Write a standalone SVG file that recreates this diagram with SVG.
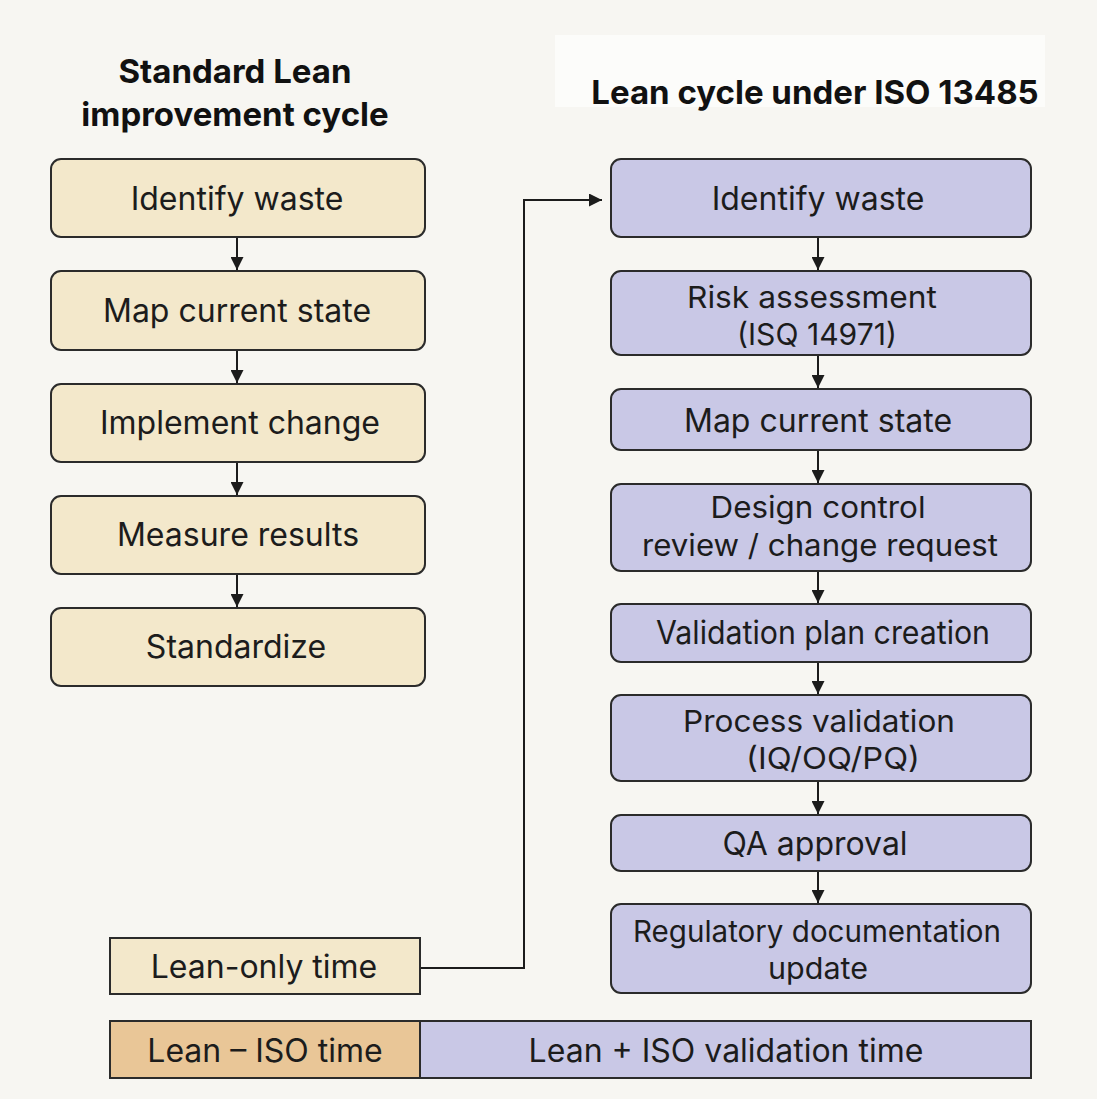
<svg xmlns="http://www.w3.org/2000/svg" width="1097" height="1099" viewBox="0 0 1097 1099">
<defs>
<style>
.bg{fill:#f7f6f2}
.lb{fill:#f3e8cb;stroke:#2b2b2b;stroke-width:2}
.rb{fill:#c9c8e6;stroke:#2b2b2b;stroke-width:2}
.ob{fill:#e9c697;stroke:#2b2b2b;stroke-width:2}
.t{font-family:Inter,"Liberation Sans",sans-serif;font-size:32px;fill:#1c1c1c;text-anchor:middle}
.t2{font-family:Inter,"Liberation Sans",sans-serif;font-size:30px;fill:#1c1c1c;text-anchor:middle}
.h{font-family:Inter,"Liberation Sans",sans-serif;font-size:33px;font-weight:700;fill:#111;text-anchor:middle}
.c{fill:none;stroke:#1c1c1c;stroke-width:2}
</style>
<marker id="ah" viewBox="0 0 10 10" refX="10" refY="5" markerWidth="13" markerHeight="13" markerUnits="userSpaceOnUse" orient="auto">
<path d="M0,0 L10,5 L0,10 z" fill="#1c1c1c"/>
</marker>
</defs>
<rect class="bg" x="0" y="0" width="1097" height="1099"/>
<rect x="555" y="35" width="490" height="72" fill="#fcfcfa"/>

<g id="titles">
<text class="h" x="235" y="83">Standard Lean</text>
<text class="h" x="235" y="126">improvement cycle</text>
<text class="h" x="815" y="104">Lean cycle under ISO 13485</text>
</g>

<g id="connectors">
<line class="c" x1="237" y1="237" x2="237" y2="270" marker-end="url(#ah)"/>
<line class="c" x1="237" y1="350" x2="237" y2="383" marker-end="url(#ah)"/>
<line class="c" x1="237" y1="462" x2="237" y2="495" marker-end="url(#ah)"/>
<line class="c" x1="237" y1="574" x2="237" y2="607" marker-end="url(#ah)"/>
<line class="c" x1="818" y1="237" x2="818" y2="270" marker-end="url(#ah)"/>
<line class="c" x1="818" y1="355" x2="818" y2="388" marker-end="url(#ah)"/>
<line class="c" x1="818" y1="450" x2="818" y2="483" marker-end="url(#ah)"/>
<line class="c" x1="818" y1="571" x2="818" y2="603" marker-end="url(#ah)"/>
<line class="c" x1="818" y1="662" x2="818" y2="694" marker-end="url(#ah)"/>
<line class="c" x1="818" y1="781" x2="818" y2="814" marker-end="url(#ah)"/>
<line class="c" x1="818" y1="871" x2="818" y2="903" marker-end="url(#ah)"/>
<polyline class="c" points="420,968 524,968 524,200 602,200" marker-end="url(#ah)"/>
</g>

<g id="l1"><rect class="lb" x="51" y="159" width="374" height="78" rx="10"/><text class="t" x="237" y="210">Identify waste</text></g>
<g id="l2"><rect class="lb" x="51" y="271" width="374" height="79" rx="10"/><text class="t" x="237" y="322">Map current state</text></g>
<g id="l3"><rect class="lb" x="51" y="384" width="374" height="78" rx="10"/><text class="t" x="240" y="434">Implement change</text></g>
<g id="l4"><rect class="lb" x="51" y="496" width="374" height="78" rx="10"/><text class="t" x="238" y="546">Measure results</text></g>
<g id="l5"><rect class="lb" x="51" y="608" width="374" height="78" rx="10"/><text class="t" x="236" y="658">Standardize</text></g>

<g id="r1"><rect class="rb" x="611" y="159" width="420" height="78" rx="10"/><text class="t" x="818" y="210">Identify waste</text></g>
<g id="r2"><rect class="rb" x="611" y="271" width="420" height="84" rx="10"/><text class="t2" x="812" y="308" textLength="250" lengthAdjust="spacingAndGlyphs">Risk assessment</text><text class="t2" x="817" y="345" textLength="160" lengthAdjust="spacingAndGlyphs">(ISQ 14971)</text></g>
<g id="r3"><rect class="rb" x="611" y="389" width="420" height="61" rx="10"/><text class="t" x="818" y="432">Map current state</text></g>
<g id="r4"><rect class="rb" x="611" y="484" width="420" height="87" rx="10"/><text class="t2" x="818" y="518" textLength="215" lengthAdjust="spacingAndGlyphs">Design control</text><text class="t2" x="820" y="556" textLength="356" lengthAdjust="spacingAndGlyphs">review / change request</text></g>
<g id="r5"><rect class="rb" x="611" y="604" width="420" height="58" rx="10"/><text class="t" x="823" y="644" textLength="334" lengthAdjust="spacingAndGlyphs">Validation plan creation</text></g>
<g id="r6"><rect class="rb" x="611" y="695" width="420" height="86" rx="10"/><text class="t2" x="819" y="732" textLength="272" lengthAdjust="spacingAndGlyphs">Process validation</text><text class="t2" x="833" y="769" textLength="174" lengthAdjust="spacingAndGlyphs">(IQ/OQ/PQ)</text></g>
<g id="r7"><rect class="rb" x="611" y="815" width="420" height="56" rx="10"/><text class="t" x="815" y="855">QA approval</text></g>
<g id="r8"><rect class="rb" x="611" y="904" width="420" height="89" rx="10"/><text class="t2" x="817" y="942" textLength="368" lengthAdjust="spacingAndGlyphs">Regulatory documentation</text><text class="t2" x="818" y="979" textLength="100" lengthAdjust="spacingAndGlyphs">update</text></g>

<g id="leanonly"><rect class="lb" x="110" y="938" width="310" height="56"/><text class="t" x="264" y="978">Lean-only time</text></g>
<g id="bar">
<rect class="ob" x="110" y="1021" width="310" height="57"/>
<text class="t" x="265" y="1062">Lean – ISO time</text>
<rect class="rb" x="420" y="1021" width="611" height="57"/>
<text class="t" x="726" y="1062">Lean + ISO validation time</text>
</g>
</svg>
